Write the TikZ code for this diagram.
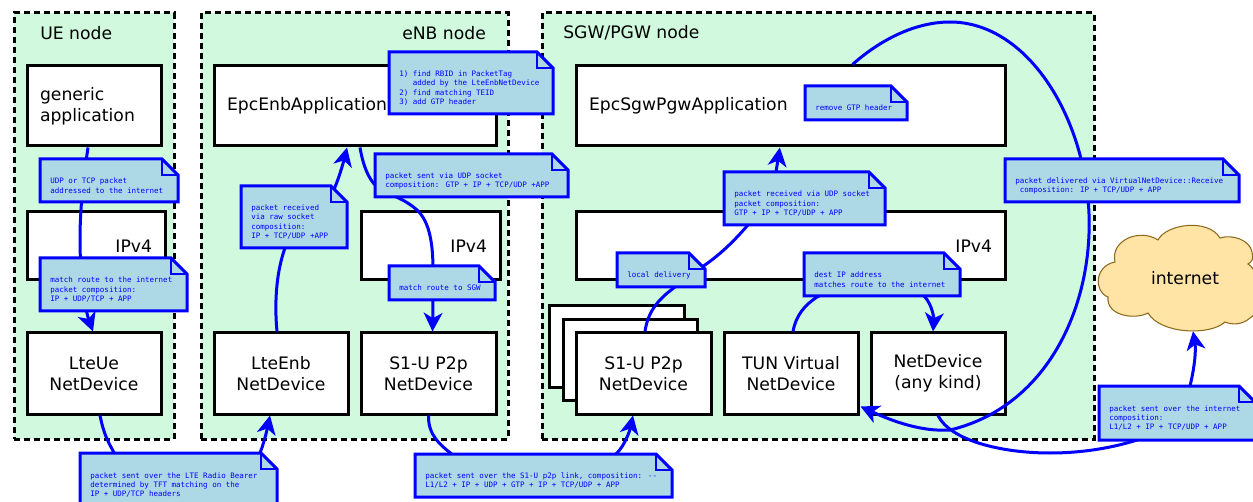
\documentclass[tikz,border=0pt]{standalone}
\usepackage{fontspec}
\setmainfont{DejaVu Sans}
\newfontfamily\notefont{DejaVu Sans Mono}
\usetikzlibrary{arrows.meta}
\definecolor{nodegreen}{HTML}{D0F9DE}
\definecolor{notefill}{HTML}{ADD8E6}
\definecolor{cloudfill}{HTML}{FFE4A6}
\definecolor{cloudline}{HTML}{8F6A1E}
\tikzset{
  frame/.style={draw=black,fill=nodegreen,line width=2.25pt,dash pattern=on 4.5pt off 3pt,inner sep=0pt},
  boxnode/.style={draw=black,fill=white,line width=2.25pt,inner sep=0pt,align=center,font=\fontsize{12.9}{15.75}\selectfont},
  grouptitle/.style={anchor=west,inner sep=0pt,font=\fontsize{12.9}{15}\selectfont},
  leftbox/.style={align=left,inner xsep=9.75pt},
  rightbox/.style={align=right,inner xsep=9.75pt},
  wire/.style={draw=blue,line width=2.25pt},
  arrowwire/.style={wire,-{Stealth[length=14pt,width=14pt,inset=4pt]}},
  notebody/.style={draw=blue,fill=notefill,line width=2.25pt,line join=miter},
  notefold/.style={draw=blue,line width=1.2pt},
  notetext/.style={anchor=west,inner xsep=7.5pt,inner ysep=0pt,align=left,text=blue,font=\notefont\fontsize{5.63}{7}\selectfont},
  cloudshape/.style={draw=cloudline,fill=cloudfill,line width=0.8pt},
  cloudlabel/.style={inner sep=0pt,minimum width=112.5pt,minimum height=79.5pt,font=\fontsize{12.9}{15.75}\selectfont}
}
\newcommand\myrect[7][boxnode]{%
  \pgfmathsetmacro\rW{(#5-#3)*0.75}%
  \pgfmathsetmacro\rH{(#6-#4)*0.75}%
  \pgfmathsetmacro\rX{(#3+#5)/2}%
  \pgfmathsetmacro\rY{(#4+#6)/2}%
  \node[#1,minimum width=\rW pt,minimum height=\rH pt] (#2) at (\rX,\rY) {#7};}
\newcommand\mynote[6]{%
  \pgfmathsetmacro\nA{#4-16}%
  \pgfmathsetmacro\nB{#3+16}%
  \pgfmathsetmacro\nC{(#3+#5)/2}%
  \path[notebody] (#2,#3) -- (\nA,#3) -- (#4,\nB) -- (#4,#5) -- (#2,#5) -- cycle;
  \path[notefold] (\nA,#3) -- (\nA,\nB) -- (#4,\nB);
  \node[notetext] (#1) at (#2,\nC) {\rule{0pt}{12pt}#6};}
\begin{document}
\begin{tikzpicture}[x=0.75pt,y=-0.75pt]
\path[use as bounding box] (0,0) rectangle (1253,502);
\clip (0,0) rectangle (1253,502);
% frames
\myrect[frame]{uenode}{14}{13}{174}{439}{}
\myrect[frame]{enbnode}{201}{13}{508}{439}{}
\myrect[frame]{sgwnode}{542}{13}{1094}{439}{}
\node[grouptitle] (uetitle) at (40,33) {UE node};
\node[grouptitle] (enbtitle) at (402,33) {eNB node};
\node[grouptitle] (sgwtitle) at (563,33) {SGW/PGW node};
% boxes
\myrect[boxnode,leftbox,text width=81pt]{appue}{27}{66}{161}{146}{generic\\application}
\myrect[boxnode,rightbox,text width=84pt]{ipue}{27}{212}{165}{280}{IPv4}
\myrect{lteue}{27}{333}{161}{414}{LteUe\\NetDevice}
\myrect[boxnode,leftbox,text width=192pt]{epcenb}{214}{66}{496}{146}{EpcEnbApplication}
\myrect{lteenb}{214}{333}{348}{414}{LteEnb\\NetDevice}
\myrect[boxnode,rightbox,text width=84.75pt]{ipenb}{361}{212}{500}{280}{IPv4}
\myrect{sonenb}{361}{333}{496}{414}{S1-U P2p\\NetDevice}
\myrect[boxnode,leftbox,text width=302.25pt]{epcsgw}{576}{66}{1005}{146}{EpcSgwPgwApplication}
\myrect[boxnode,rightbox,text width=302.25pt]{ipsgw}{576}{212}{1005}{280}{IPv4}
\myrect{stackc}{549}{306}{684}{387}{}
\myrect{stackb}{563}{320}{697}{400}{}
\myrect{sonsgw}{576}{333}{711}{414}{S1-U P2p\\NetDevice}
\myrect{tun}{724}{333}{858}{414}{TUN Virtual\\NetDevice}
\myrect{netdev}{871}{333}{1005}{414}{NetDevice\\(any kind)}
% cloud
\path[cloudshape] (1158,240) .. controls (1166,224) and (1208,218) .. (1220,238)
  .. controls (1232,234) and (1250,240) .. (1252,252) .. controls (1254,258) and (1252,262) .. (1248,264)
  .. controls (1262,272) and (1262,312) .. (1250,318) .. controls (1242,325) and (1232,325) .. (1225,322)
  .. controls (1210,336) and (1160,334) .. (1148,313)
  .. controls (1135,320) and (1106,316) .. (1108,297)
  .. controls (1094,292) and (1094,266) .. (1115,262)
  .. controls (1110,240) and (1140,228) .. (1158,240) -- cycle;
\node[cloudlabel] (internet) at (1185,278) {internet};
% connectors
\draw[arrowwire] ([xshift=-4.5]appue.south) .. controls (84,175) and (80,205) .. (80,240)
  .. controls (80,280) and (86,312) .. ([xshift=-0.75]lteue.north);
\draw[arrowwire] ([xshift=4.5]lteue.south) .. controls (104,435) and (108,442) .. (116,456)
  .. controls (130,480) and (245,490) .. (260,453) .. controls (264,443) and (267,430) .. ([xshift=-8.25]lteenb.south);
\draw[arrowwire] ([xshift=-3]lteenb.north) .. controls (274,300) and (277,270) .. (285,248)
  .. controls (300,230) and (328,215) .. (335,187) .. controls (340,175) and (344,160) .. ([xshift=-6]epcenb.south);
\draw[arrowwire] ([xshift=3.75]epcenb.south) .. controls (363,165) and (368,178) .. (376,186)
  .. controls (385,195) and (400,195) .. (417,210) .. controls (430,222) and (433,245) .. (433,270)
  .. controls (433,300) and (433,315) .. ([xshift=3]sonenb.north);
\draw[arrowwire] (sonenb.south) .. controls (428,435) and (440,445) .. (453,455)
  .. controls (500,480) and (590,480) .. (617,453) .. controls (625,445) and (630,430) .. ([xshift=-7.875]sonsgw.south);
\draw[arrowwire] ([xshift=1.125]sonsgw.north) .. controls (648,310) and (660,298) .. (675,287)
  .. controls (685,280) and (695,273) .. (702,267) .. controls (720,255) and (735,240) .. (747,226)
  .. controls (760,212) and (772,195) .. (776,172) .. controls (777,165) and (778,160) .. ([xshift=-8]epcsgw.south);
\draw[arrowwire] ([xshift=1.5]tun.north) .. controls (796,315) and (805,305) .. (817,297)
  .. controls (850,280) and (900,270) .. (925,297) .. controls (932,305) and (934,318) .. ([xshift=-3.75]netdev.north);
\draw[arrowwire] ([xshift=-115.5]epcsgw.north east) .. controls (880,40) and (915,22) .. (950,22)
  .. controls (1020,22) and (1075,100) .. (1087,190) .. controls (1100,290) and (1055,405) .. (950,430)
  .. controls (920,432) and (890,420) .. ([xshift=0.75,yshift=6.75]tun.south east);
\draw[arrowwire] (netdev.south) .. controls (950,440) and (1000,453) .. (1050,453)
  .. controls (1085,453) and (1115,447) .. (1137,440) .. controls (1165,430) and (1185,410) .. (1190,386)
  .. controls (1195,365) and (1196,350) .. ([xshift=6]internet.south);
% notes
\mynote{noteudp}{40}{159}{178}{202}{UDP or TCP packet\\addressed to the internet}
\mynote{notematch}{40}{258}{187}{311}{match route to the internet\\packet composition:\\IP + UDP/TCP + APP}
\mynote{notelte}{80}{453}{277}{507}{packet sent over the LTE Radio Bearer\\determined by TFT matching on the\\IP + UDP/TCP headers}
\mynote{noteraw}{241}{186}{347}{248}{packet received\\via raw socket\\composition:\\IP + TCP/UDP +APP}
\mynote{noterbid}{389}{52}{553}{114}{1) find RBID in PacketTag\\\ \ \ added by the LteEnbNetDevice\\2) find matching TEID\\3) add GTP header}
\mynote{notesent}{375}{154}{568}{197}{packet sent via UDP socket\\composition: GTP + IP + TCP/UDP +APP}
\mynote{notesgwroute}{389}{266}{495}{300}{match route to SGW}
\mynote{notes1u}{415}{454}{672}{497}{packet sent over the S1-U p2p link, composition: --\\L1/L2 + IP + UDP + GTP + IP + TCP/UDP + APP}
\mynote{notelocal}{617}{253}{705}{287}{local delivery}
\mynote{notereceived}{724}{172}{885}{225}{packet received via UDP socket\\packet composition:\\GTP + IP + TCP/UDP + APP}
\mynote{notedest}{804}{253}{960}{296}{dest IP address\\matches route to the internet}
\mynote{noteremove}{805}{86}{907}{120}{remove GTP header}
\mynote{notevirtual}{1005}{159}{1239}{202}{packet delivered via VirtualNetDevice::Receive\\\ composition: IP + TCP/UDP + APP}
\mynote{noteinternet}{1099}{386}{1255}{440}{packet sent over the internet\\composition:\\L1/L2 + IP + TCP/UDP + APP}
\end{tikzpicture}
\end{document}
